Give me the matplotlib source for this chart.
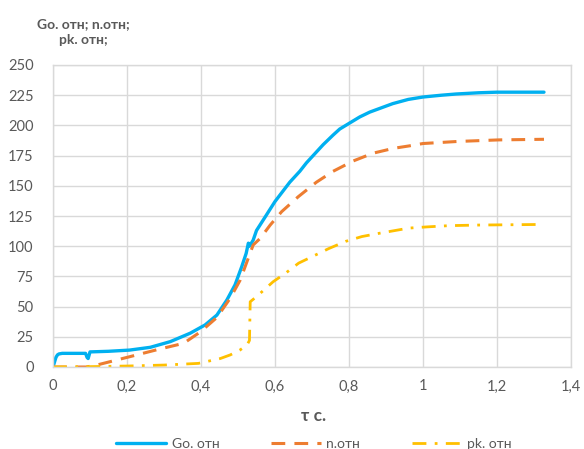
import matplotlib
matplotlib.use("Agg")
import matplotlib.pyplot as plt
from matplotlib.ticker import FixedLocator, FuncFormatter

plt.rcParams['font.family'] = ['Lato', 'DejaVu Sans']

# Go. отн
go_x = [0, 0.004, 0.008, 0.012, 0.016, 0.025, 0.05, 0.088, 0.092, 0.095, 0.1, 0.15, 0.207,
        0.263, 0.317, 0.371, 0.411, 0.443, 0.47, 0.492, 0.51, 0.522, 0.528, 0.531, 0.541,
        0.55, 0.573, 0.6, 0.64, 0.667, 0.685, 0.703, 0.73, 0.757, 0.775, 0.802, 0.829,
        0.856, 0.918, 0.96, 1.0, 1.05, 1.09, 1.15, 1.2, 1.26, 1.327]
go_y = [0, 4, 8, 10, 10.8, 11.3, 11.3, 11.3, 8, 7, 12.5, 13, 14,
        16.3, 21, 28, 34.8, 43, 55.5, 68, 83, 94, 102.5, 100, 105,
        113, 124, 137, 153, 162, 169, 175, 184, 192, 197, 202, 207,
        211, 218, 221.5, 223.5, 225, 226, 227, 227.5, 227.5, 227.5]

# n.отн
n_x = [0, 0.09, 0.118, 0.207, 0.29, 0.353, 0.398, 0.443, 0.479, 0.506, 0.524, 0.541, 0.56,
       0.587, 0.618, 0.663, 0.712, 0.757, 0.811, 0.865, 0.92, 0.962, 1.0, 1.093, 1.205, 1.327]
n_y = [0, 0, 1.6, 8.5, 15, 19.6, 29, 41, 57, 72, 87, 101, 106.5,
       117.5, 128.6, 141, 153, 162, 170.5, 177, 181, 183, 185, 186.7, 188, 188.5]

# pk. отн
pk_x = [0, 0.1, 0.2, 0.3, 0.393, 0.452, 0.479, 0.505, 0.524, 0.531, 0.533, 0.545, 0.56,
        0.595, 0.63, 0.664, 0.698, 0.745, 0.791, 0.835, 0.882, 0.962, 1.012, 1.07, 1.147, 1.32]
pk_y = [0, 0.3, 0.8, 1.6, 3, 7, 10, 14, 18, 22, 54, 57, 61,
        70.6, 78, 86, 91, 98, 104, 108, 110.7, 115, 116, 117, 117.5, 118]

x_ticks = [0, 0.2, 0.4, 0.6, 0.8, 1.0, 1.2, 1.4]
y_ticks = [0, 25, 50, 75, 100, 125, 150, 175, 200, 225, 250]
labels = ['Go. отн', 'n.отн', 'pk. отн']

fig = plt.figure(figsize=(5.84, 4.49), dpi=100)
ax = fig.add_axes([53/584, 1 - 367/449, (571 - 53)/584, (367 - 65)/449])

ax.plot(go_x, go_y, color='#00B0F0', lw=2.4, label=labels[0],
        solid_capstyle='round', solid_joinstyle='round')
ax.plot(n_x, n_y, color='#ED7D31', lw=2.2, dashes=(4.5, 3), label=labels[1])
ax.plot(pk_x, pk_y, color='#FFC000', lw=2.0, dashes=(5, 3, 1, 3), label=labels[2])

ax.set_xlim(0, 1.4)
ax.set_ylim(0, 250)
ax.xaxis.set_major_locator(FixedLocator(x_ticks))
ax.yaxis.set_major_locator(FixedLocator(y_ticks))

def fmt(v, pos):
    s = ('%.1f' % v).rstrip('0').rstrip('.')
    return s.replace('.', ',')
ax.xaxis.set_major_formatter(FuncFormatter(fmt))

ax.grid(True, color='#d9d9d9', lw=1)
ax.set_axisbelow(True)
for s in ax.spines.values():
    s.set_color('#d9d9d9')
    s.set_linewidth(1)
ax.tick_params(length=0, labelsize=10.5, labelcolor='#595959', pad=9)
ax.tick_params(axis='y', pad=14)

fig.text(83/584, 1 - 32/449, 'Go. отн; n.отн;\npk. отн;', ha='center', va='center',
         fontsize=10, fontweight='bold', color='#595959', linespacing=1.4, multialignment='center')

fig.text(314/584, 1 - 416/449, 'τ c.', ha='center', va='center', fontsize=12.5,
         fontweight='bold', color='#595959')

fig.legend(loc='center', bbox_to_anchor=(314/584, 1 - 444/449), ncol=3, frameon=False,
           fontsize=10, handlelength=3.6, columnspacing=3.7, labelcolor='#595959',
           handletextpad=0.4)

fig.savefig('out.png', dpi=100)
